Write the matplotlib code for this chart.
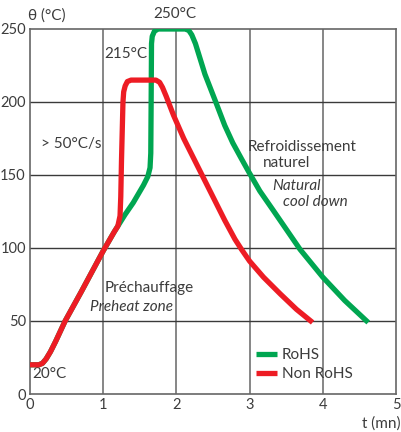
import matplotlib
matplotlib.use('Agg')
import matplotlib.pyplot as plt

plt.rcParams['font.family'] = ['Lato', 'DejaVu Sans']

# Reflow profiles: time (min) vs temperature (deg C)
t_non_rohs = [0, 0.12, 0.17, 0.22, 0.28, 0.35, 0.48, 0.7, 1.0, 1.15, 1.2, 1.23,
              1.24, 1.25, 1.27, 1.28, 1.30, 1.33, 1.38, 1.72, 1.77, 1.81, 1.86,
              1.96, 2.10, 2.28, 2.46, 2.66, 2.80, 2.89, 3.0, 3.19, 3.42, 3.64, 3.86]
temp_non_rohs = [20, 20, 21, 24, 29, 36, 50, 70, 98, 111, 115, 122,
                 135, 160, 200, 207, 211, 214, 215, 215, 213.5, 210, 204,
                 191, 175, 157, 139, 119, 106, 99, 91, 80, 68.5, 58, 49]

t_rohs = [0, 0.12, 0.17, 0.22, 0.28, 0.35, 0.48, 0.7, 1.0, 1.15, 1.2, 1.3,
          1.41, 1.55, 1.61, 1.64, 1.65, 1.655, 1.66, 1.67, 1.70, 1.75, 2.12,
          2.17, 2.21, 2.26, 2.39, 2.53, 2.66, 2.77, 2.89, 2.99, 3.14, 3.32,
          3.69, 4.0, 4.3, 4.62]
temp_rohs = [20, 20, 21, 24, 29, 36, 50, 70, 98, 111, 115, 123,
             131, 143, 149, 155, 165, 200, 240, 245, 248.5, 250, 250,
             249, 246, 240, 219, 201, 184, 172, 161, 152, 139, 126,
             99, 80, 64, 49]

xticks = [0, 1, 2, 3, 4, 5]
yticks = [0, 50, 100, 150, 200, 250]

green = '#00a651'
red = '#ed1c24'
txt = '#3c3c3c'

fig = plt.figure(figsize=(4.01, 4.32), dpi=100)
ax = fig.add_axes([30 / 401, 38 / 432, 366 / 401, 365 / 432])

ax.plot(t_rohs, temp_rohs, color=green, lw=3.8, solid_joinstyle='round',
        solid_capstyle='butt', label='RoHS', zorder=3)
ax.plot(t_non_rohs, temp_non_rohs, color=red, lw=3.8, solid_joinstyle='round',
        solid_capstyle='butt', label='Non RoHS', zorder=4)

ax.set_xlim(0, 5)
ax.set_ylim(0, 250)
ax.set_xticks(xticks)
ax.set_yticks(yticks)
ax.tick_params(length=0, labelsize=10.5, labelcolor=txt, pad=3)

# grid
for x in xticks[1:-1]:
    ax.axvline(x, color='#666666', lw=1.1, zorder=1)
for y in yticks[1:-1]:
    ax.axhline(y, color='#3a3a3a', lw=1.0, zorder=1)
for s in ax.spines.values():
    s.set_color('#666666')
    s.set_linewidth(1.2)

# labels
fs = 11
ax.text(-0.03, 259, 'θ (°C)', fontsize=fs, color=txt, ha='left', va='center', clip_on=False)
ax.text(5.06, -20, 't (mn)', fontsize=fs, color=txt, ha='right', va='center', clip_on=False)
ax.text(1.98, 260, '250°C', fontsize=fs, color=txt, ha='center', va='center', clip_on=False)
ax.text(1.31, 233, '215°C', fontsize=fs, color=txt, ha='center', va='center')
ax.text(0.03, 14, '20°C', fontsize=fs, color=txt, ha='left', va='center')
ax.text(0.15, 171, '> 50°C/s', fontsize=fs, color=txt, ha='left', va='center')
ax.text(3.72, 169, 'Refroidissement', fontsize=fs, color=txt, ha='center', va='center')
ax.text(3.5, 158, 'naturel', fontsize=fs, color=txt, ha='center', va='center')
ax.text(3.31, 142.5, 'Natural', fontsize=fs, color=txt, style='italic', ha='left', va='center')
ax.text(3.46, 131.5, 'cool down', fontsize=fs, color=txt, style='italic', ha='left', va='center')
ax.text(1.02, 72.6, 'Préchauffage', fontsize=fs, color=txt, ha='left', va='center')
ax.text(0.82, 59.6, 'Preheat zone', fontsize=fs, color=txt, style='italic', ha='left', va='center')

leg = ax.legend(loc='upper left', bbox_to_anchor=(226 / 366, 0.126), frameon=False,
                fontsize=fs, handlelength=1.35, handletextpad=0.35, labelspacing=0.35,
                borderpad=0, borderaxespad=0)
for text in leg.get_texts():
    text.set_color(txt)

fig.savefig('out.png', dpi=100)
